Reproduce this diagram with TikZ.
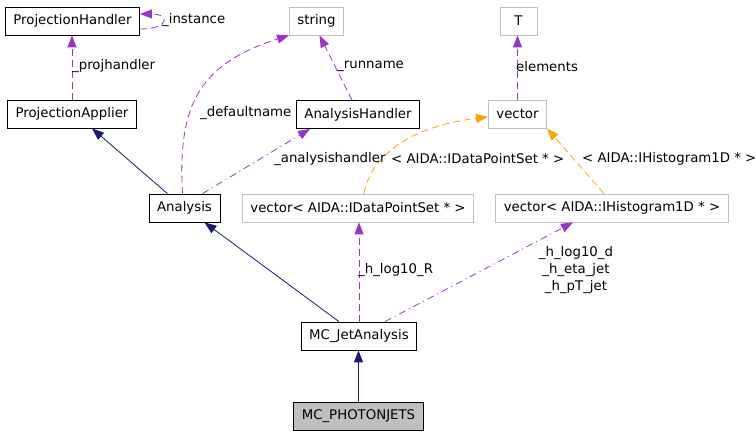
\documentclass[tikz,border=0pt]{standalone}
\usepackage{fontspec}
\setmainfont{DejaVu Sans}
\usetikzlibrary{arrows.meta}
\definecolor{navyline}{RGB}{25,25,112}
\definecolor{orchidline}{RGB}{154,50,205}
\definecolor{tplline}{RGB}{255,165,0}
\definecolor{boxgrey}{RGB}{191,191,191}
\begin{document}
\begin{tikzpicture}[x=1pt, y=-1pt,
    every node/.style={font=\fontsize{13.3}{16}\selectfont, inner sep=0pt},
    cls/.style={draw=black, line width=0.8pt, inner xsep=8pt, minimum height=28pt},
    ext/.style={draw=boxgrey, line width=0.8pt, inner xsep=8pt, minimum height=28pt},
    inh/.style={navyline, line width=0.8pt, -{Triangle[length=12pt,width=9pt]}},
    use/.style={orchidline, line width=0.8pt, dash pattern=on 7pt off 4pt, -{Triangle[length=12pt,width=9pt]}},
    usedot/.style={orchidline, line width=0.8pt, dash pattern=on 7pt off 4pt on 1pt off 4pt, -{Triangle[length=12pt,width=9pt]}},
    tpl/.style={tplline, line width=0.8pt, dash pattern=on 7pt off 4pt, -{Triangle[length=12pt,width=9pt]}},
    lbl/.style={anchor=west}]
  \useasboundingbox (0,0) rectangle (756,435);
  % boxes
  \node[cls] (projhandler) at (72.5,21) {ProjectionHandler};
  \node[ext] (string) at (316.5,21) {string};
  \node[ext, minimum width=37pt] (tparam) at (518.5,21) {T};
  \node[cls] (projapplier) at (72,114) {ProjectionApplier};
  \node[cls] (anahandler) at (358,114.5) {AnalysisHandler};
  \node[ext] (vector) at (517.5,114) {vector};
  \node[cls] (analysis) at (184.5,208) {Analysis};
  \node[ext] (vecdps) at (358,208) {vector< AIDA::IDataPointSet * >};
  \node[ext] (vechist) at (612,208) {vector< AIDA::IHistogram1D * >};
  \node[cls] (mcjet) at (359,336) {MC\_JetAnalysis};
  \node[cls, fill=boxgrey] (mcphoton) at (358.5,416) {MC\_PHOTONJETS};
  % connectors
  \draw[use] ([yshift=-8pt]projhandler.east) .. controls +(30,0) and +(30,0) .. ([yshift=7pt]projhandler.east);
  \draw[use] (projapplier.north) -- (projapplier.north|-projhandler.south);
  \draw[inh] ([xshift=-17pt]analysis.north) -- ([xshift=20pt]projapplier.south);
  \draw[use] ([xshift=-2pt]analysis.north) .. controls (178,110) and (195,65) .. (string.south west);
  \draw[usedot] ([xshift=18pt]analysis.north) -- ([xshift=-48pt]anahandler.south);
  \draw[use] ([xshift=-6pt]anahandler.north) -- ([xshift=3pt]string.south);
  \draw[use] (vector.north) -- (vector.north|-tparam.south);
  \draw[tpl] ([xshift=6pt]vecdps.north) .. controls (372,150) and (420,125) .. ([yshift=-3pt]vector.west);
  \draw[tpl] ([xshift=-8pt]vechist.north) -- (vector.south east);
  \draw[inh] ([xshift=-20pt]mcjet.north) -- ([xshift=20pt]analysis.south);
  \draw[use] (mcjet.north) -- (mcjet.north|-vecdps.south);
  \draw[usedot] ([xshift=26pt]mcjet.north) -- ([xshift=-39pt]vechist.south);
  \draw[inh] (mcphoton.north) -- (mcphoton.north|-mcjet.south);
  % labels
  \node[lbl] (lbinstance) at (162,20) {\_instance};
  \node[lbl] (lbproj) at (72,66.5) {\_projhandler};
  \node[lbl] (lbdefault) at (200,113) {\_defaultname};
  \node[lbl] (lbrun) at (337,66.5) {\_runname};
  \node[lbl] (lbelem) at (516,66.5) {elements};
  \node[lbl] (lbanahandler) at (274,159) {\_analysishandler};
  \node[lbl] (lbdps) at (391,159) {< AIDA::IDataPointSet * >};
  \node[lbl] (lbhist) at (582,159) {< AIDA::IHistogram1D * >};
  \node[lbl] (lblogr) at (358,270.5) {\_h\_log10\_R};
  \node[align=center] (lbhists) at (576,270.5) {\_h\_log10\_d\\[1pt]\_h\_eta\_jet\\[1pt]\_h\_pT\_jet};
\end{tikzpicture}
\end{document}
